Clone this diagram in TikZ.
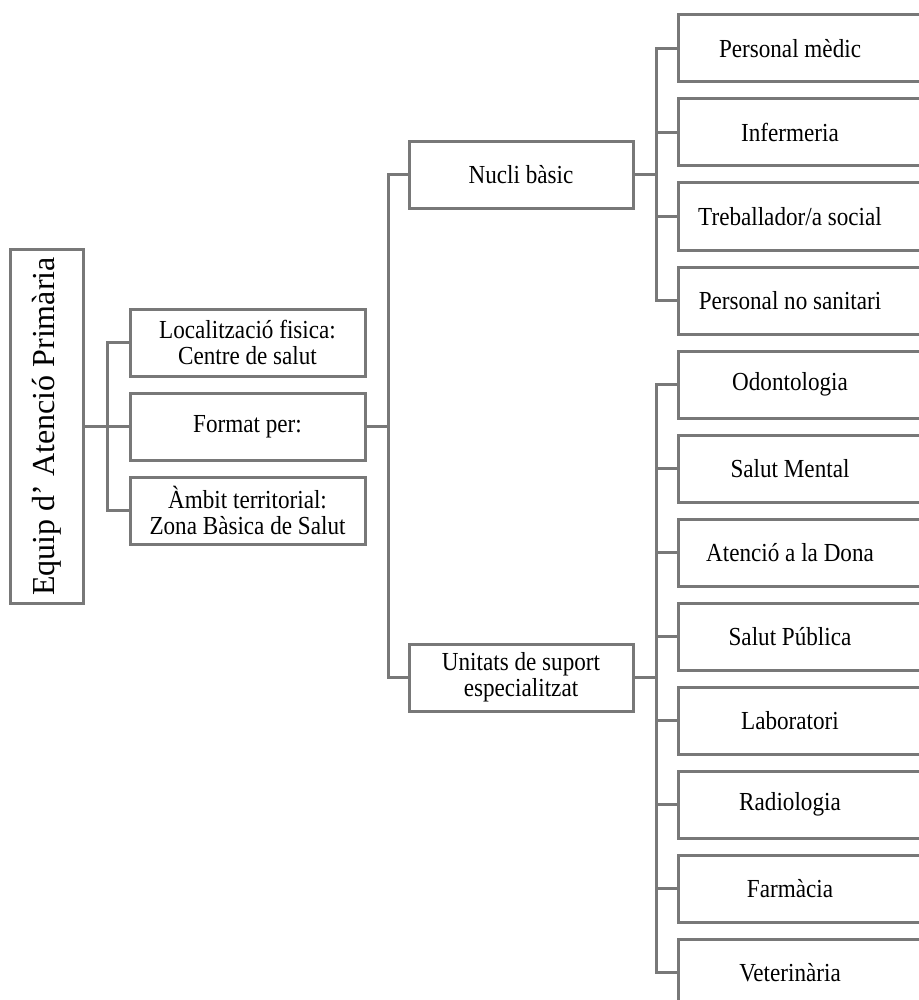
\documentclass[tikz,border=0pt]{standalone}
\usepackage{fontspec}
\setmainfont{Liberation Serif}[FakeStretch=0.89]
\newfontfamily\rootfont{Liberation Serif}
\usetikzlibrary{positioning}

\definecolor{linegray}{RGB}{120,120,120}

\tikzset{
  link/.style={draw=linegray, line width=1.5pt},
  box/.style={draw=linegray, line width=1.5pt, rectangle, inner sep=0pt,
              outer sep=0pt, align=center, font=\fontsize{13}{13}\selectfont},
  rootbox/.style={box, minimum width=177pt, minimum height=36.5pt,
                  font=\rootfont\fontsize{16}{17}\selectfont},
  midbox/.style={box, minimum width=117.5pt, minimum height=33.5pt},
  groupbox/.style={box, minimum width=112pt, minimum height=33.5pt},
  leafbox/.style={box, draw=none, minimum width=112pt, minimum height=33.5pt}
}

\begin{document}
\begin{tikzpicture}[x=0.5pt,y=-0.5pt,node distance=8.5pt]
   \useasboundingbox (0,0) rectangle (919,1000);
   \clip (0,0) rectangle (919,1000);

   % left part
   \node[rootbox,rotate=90] (eap) at (46.5,426.5) {Equip d’ Atenció Primària};
   \node[midbox] (loc) at (247.5,342.5) {Localització fisica:\\Centre de salut};
   \node[midbox] (fmt) [below=of loc] {Format per:};
   \node[midbox] (amb) [below=of fmt] {Àmbit territorial:\\Zona Bàsica de Salut};

   \draw[link] (eap.south) -- (fmt.west);
   \draw[link] (loc.west) -- ++(-11.5pt,0) |- (amb.west);

   % second level
   \node[groupbox] (nucli)   at (521,175)   {Nucli bàsic};
   \node[groupbox] (unitats) at (521,677.5) {Unitats de suport\\especialitzat};

   \draw[link] (fmt.east) -- ++(11.5pt,0);
   \draw[link] (nucli.west) -- ++(-10.5pt,0) |- (unitats.west);

   % leaves
   \foreach \name/\txt [count=\k from 0] in {
        med/Personal mèdic, inf/Infermeria, tsoc/{Treballador/a social},
        nosan/Personal no sanitari, odo/Odontologia, smen/Salut Mental,
        dona/Atenció a la Dona, spub/Salut Pública, lab/Laboratori,
        rad/Radiologia, farm/Farmàcia, vet/Veterinària}{
      \node[leafbox, anchor=west] (\name) at (678,48.5+84*\k) {\txt};
      \draw[link] ([xshift=20pt]\name.north east) -- (\name.north west)
                  -- (\name.south west) -- ([xshift=20pt]\name.south east);
   }

   \draw[link] (nucli.east) -- ++(11.5pt,0);
   \draw[link] (med.west) -- ++(-11pt,0) |- (nosan.west);
   \draw[link] (inf.west) -- ++(-11pt,0);
   \draw[link] (tsoc.west) -- ++(-11pt,0);

   \draw[link] (unitats.east) -- ++(11.5pt,0);
   \draw[link] (odo.west) -- ++(-11pt,0) |- (vet.west);
   \foreach \name in {smen,dona,spub,lab,rad,farm}
      \draw[link] (\name.west) -- ++(-11pt,0);
\end{tikzpicture}
\end{document}
